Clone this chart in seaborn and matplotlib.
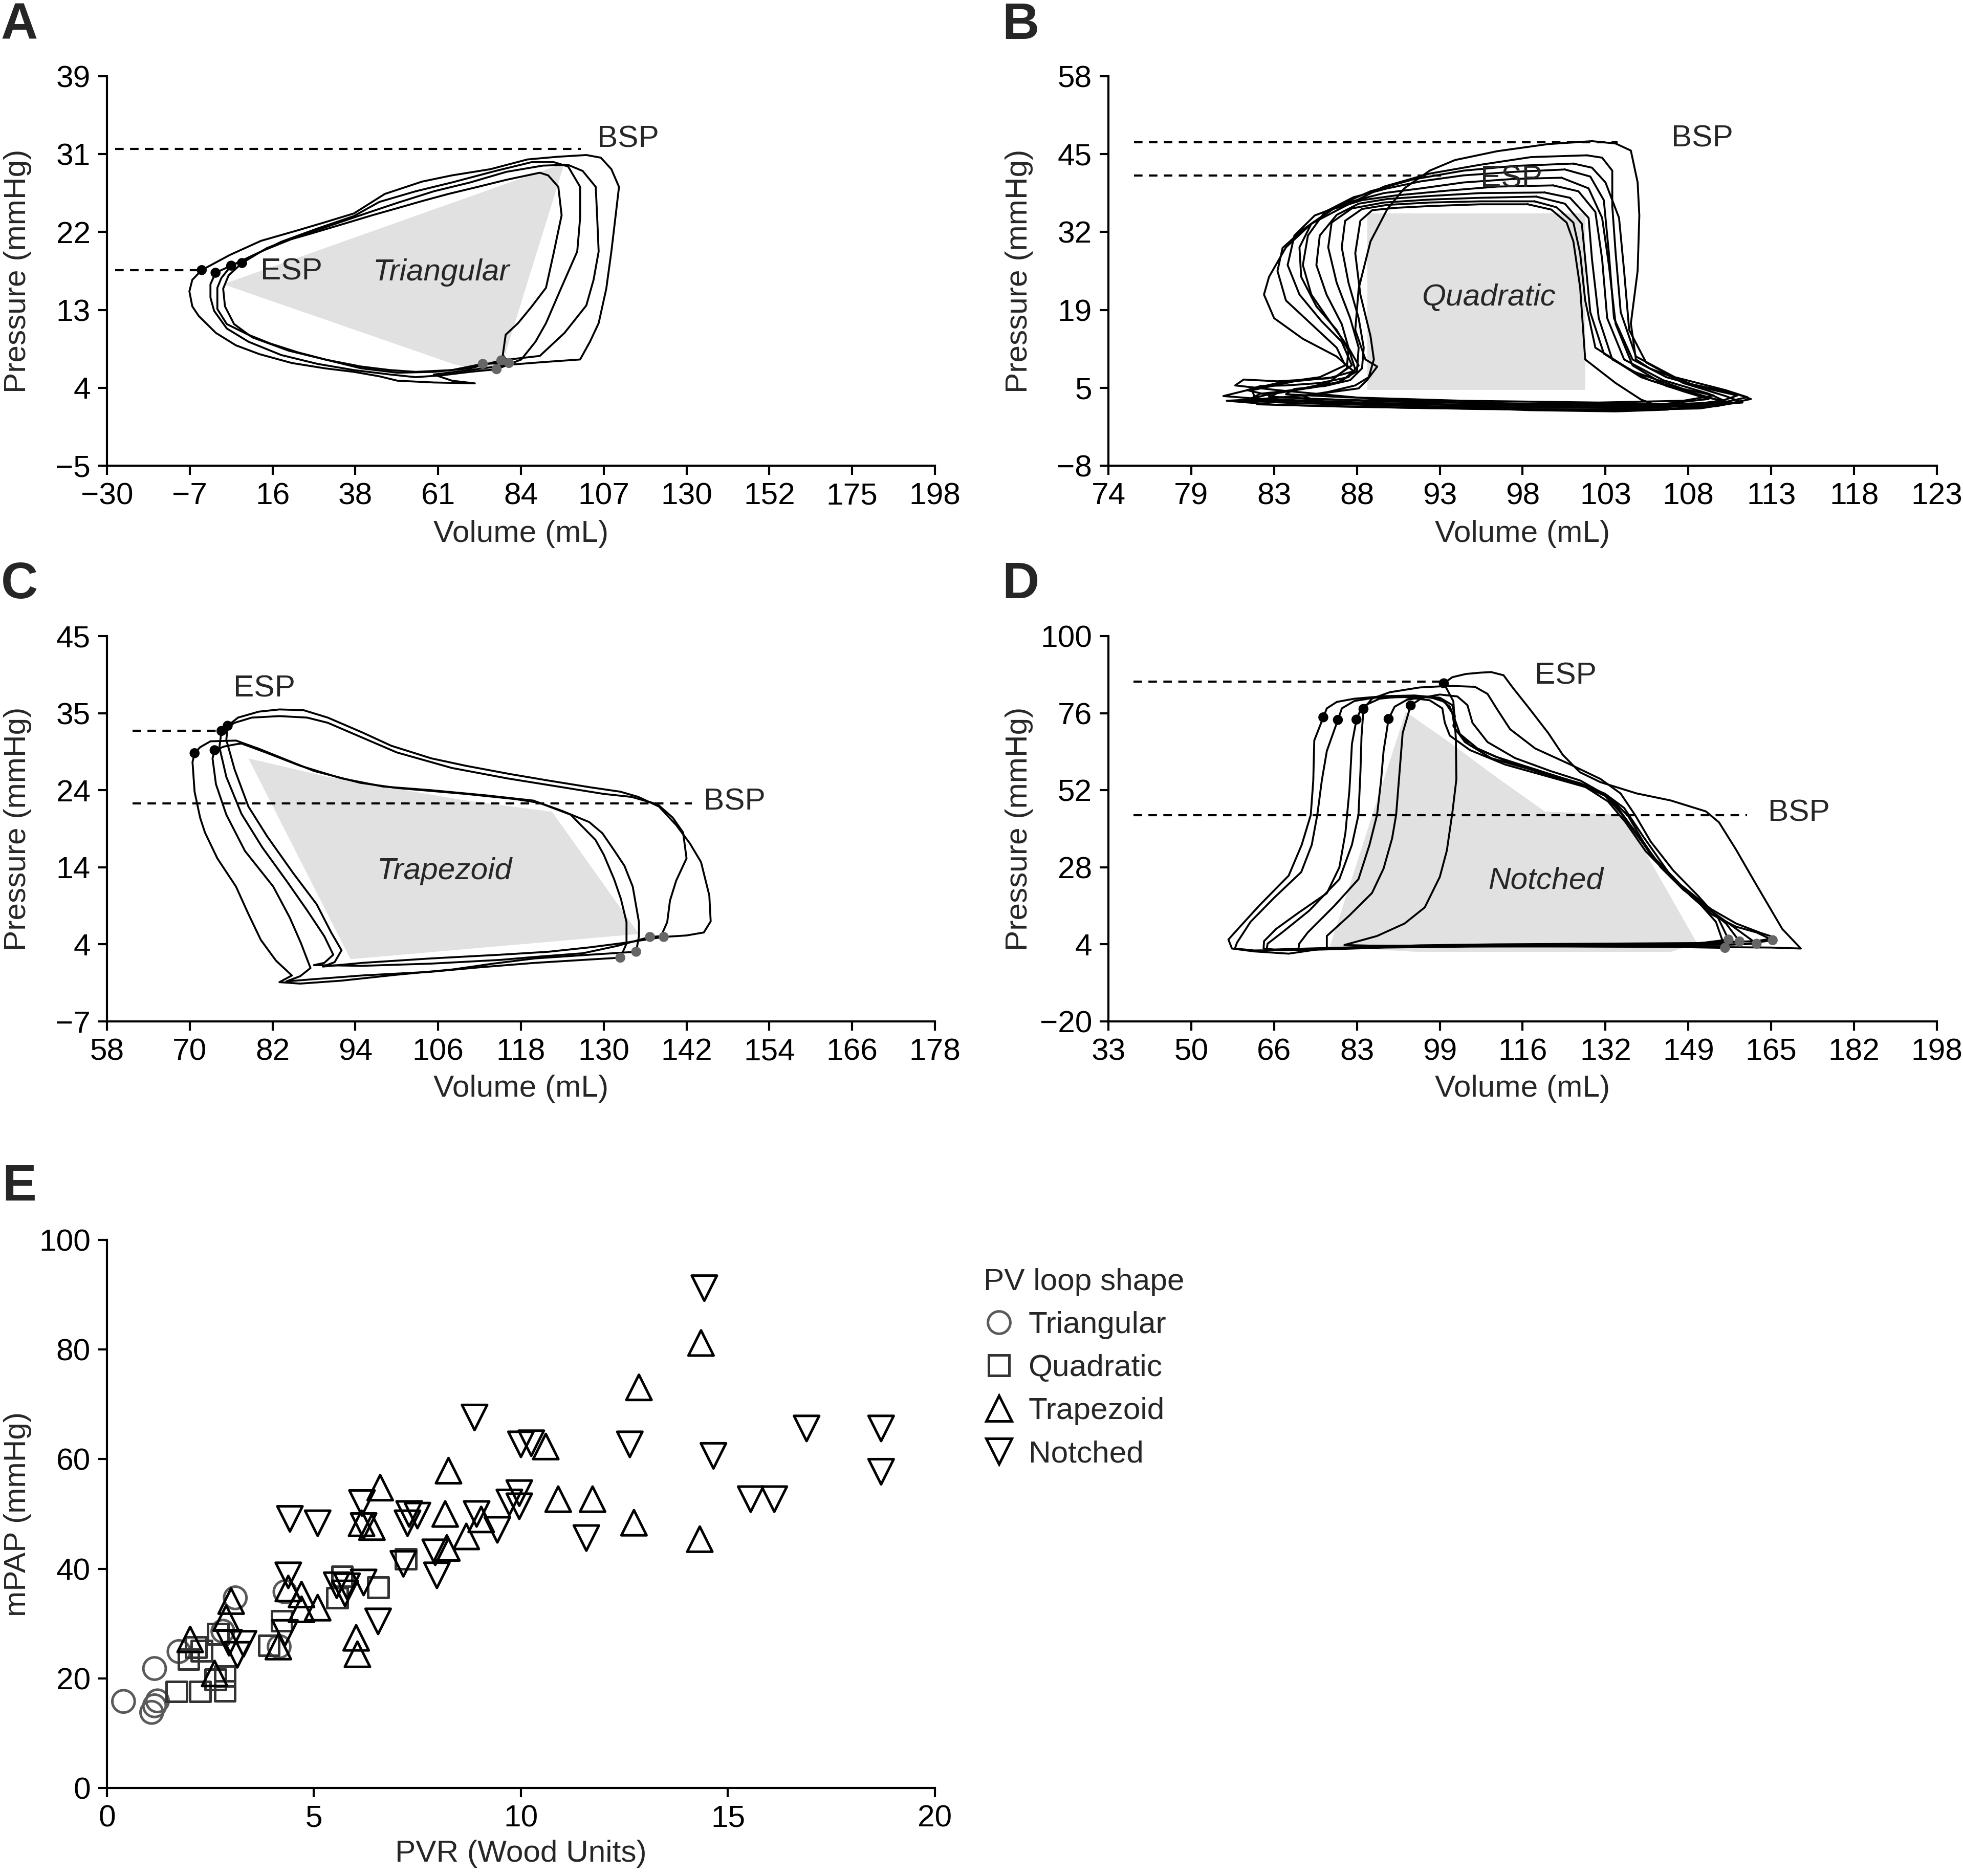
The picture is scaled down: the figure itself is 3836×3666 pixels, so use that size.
import numpy as np
import pandas as pd
import matplotlib
matplotlib.use("Agg")
import matplotlib.pyplot as plt
import seaborn as sns
from matplotlib.lines import Line2D

sns.set_style("ticks")
plt.rcParams["font.family"] = ["Liberation Sans", "DejaVu Sans"]
plt.rcParams["axes.unicode_minus"] = True

# ---------------------------------------------------------------- panel A data
A_LOOP_1 = [(-3.9,17.1),(-6.5,16.0),(-7.3,14.7),(-6.5,13.0),(-4.7,11.9),(0,10.0),(5.5,8.6),(12,7.6),(20.9,6.6),(30,6.0),(38,5.6),(45,5.1),(50,4.6),(60,4.4),(71.3,4.3),(65,4.6),(60,5.3),(70,5.8),(80.7,6.4),(90,6.7),(100.3,7.0),(103,9.0),(105.4,11.1),(107.5,15),(108.9,19.2),(110,23),(111,26.5),(108.9,28.5),(106,29.8),(102,30.1),(94,29.9),(85.8,29.6),(75.6,28.5),(65,27.8),(56.8,27.1),(46.5,25.7),(38,23.5),(30,22.5),(22.6,21.6),(12.4,20.4),(3.8,18.8),(-3.9,17.1)]
A_LOOP_2 = [(-0.1,16.8),(-1.5,15.5),(-1.5,14.0),(-0.5,12.5),(3,10.5),(9,9.0),(18,7.5),(28,6.5),(38,5.8),(48,5.3),(55,5.0),(62,5.2),(70,5.6),(77.3,5.9),(84.1,7.0),(88,9.0),(90.9,11.1),(95,15),(99.5,19.2),(100.3,23),(100.3,26.5),(97,28.8),(93,29.3),(87,29.3),(77,28.3),(65,27.0),(55,26.0),(45,24.8),(38,23.2),(28,21.8),(18,20.3),(8,18.3),(-0.1,16.8)]
A_LOOP_3 = [(4.2,17.6),(1.5,16.2),(0.4,15.1),(0.4,12.7),(3,11.0),(8.9,9.8),(15,8.8),(22.6,7.8),(32,6.8),(40,6.0),(50,5.5),(60,5.6),(70,6.0),(78.6,6.9),(89.2,7.4),(96,10),(102,13.1),(104,16),(105.4,19.2),(105,23),(104.6,26.5),(101,28.3),(96.9,29.0),(90,28.9),(80,28.2),(70,27.0),(60,26.0),(50,24.7),(42,23.6),(32,22.2),(22,20.8),(13,19.3),(4.2,17.6)]
A_LOOP_4 = [(7.2,17.9),(3.5,16.5),(2,15.0),(2.5,13.0),(5,11.0),(10,9.5),(20,8.0),(30,7.0),(40,6.2),(48,5.8),(55,5.6),(65,5.8),(73.5,6.5),(80.7,6.6),(79,7.5),(79.8,9.8),(83.2,11.1),(87,13),(90.9,15.1),(93,19),(95.2,23.3),(94.3,26.5),(91.5,27.8),(89.2,28.1),(80,27.3),(72.1,26.5),(64,25.7),(56.8,24.9),(50,24.1),(43.1,23.3),(35,22.3),(26,21.2),(20,20.5),(14.1,19.6),(7.2,17.9)]
A_LOOPS = [A_LOOP_1, A_LOOP_2, A_LOOP_3, A_LOOP_4]
A_SHAPE = [(2.0,15.5),(96.0,29.2),(78.0,5.4),(66.0,6.4)]
A_ESP_V = [-3.9, -0.1, 4.2, 7.2]
A_ESP_P = [17.1, 16.8, 17.6, 17.9]
A_EDP_V = [73.5, 78.6, 80.7, 77.3]
A_EDP_P = [6.5, 6.9, 6.6, 5.9]
A_XTICKS = ["\u221230", "\u22127", "16", "38", "61", "84", "107", "130", "152", "175", "198"]
A_YTICKS = ["\u22125", "4", "13", "22", "31", "39"]

# ---------------------------------------------------------------- panel B data
B_LOOP_1 = [(102.6,47.0),(100,46.5),(97,45.3),(94.5,43.8),(93,42),(91.5,39),(90.5,35.5),(89.5,30),(88.8,22),(88.6,15),(89.2,10),(89.9,8.8),(89.3,6.5),(88.8,5.1),(86,4),(83,3.3),(81,3.0),(84,2.3),(92,1.8),(100,1.5),(107,1.6),(110,2.1),(112,3.3),(111,4.3),(108.5,5.8),(106,8.5),(105.2,10),(104.9,16.1),(105.3,25),(105.4,34.4),(105.3,40),(104.9,45.4),(104,46.6),(102.6,47.0)]
B_LOOP_2 = [(102.3,44.6),(99,44.3),(96,43),(93,41.5),(90.3,39.3),(88,36),(86,33),(84.5,29),(83.5,24),(83.2,21),(83.8,17),(85.5,13.5),(87.5,10.5),(88.5,8),(87,6.8),(84,6.3),(82,6.6),(81.5,5.6),(84,4.8),(90,3.2),(98,2.4),(106,2.2),(110,2.5),(111.8,3.6),(110.5,4.8),(107.5,7),(105.2,10.5),(104.3,18),(104,28),(103.8,36),(103.8,42),(103.2,44.2),(102.3,44.6)]
B_LOOP_3 = [(101.5,43.2),(98,42.8),(95,42),(92,40.5),(89.5,38.5),(87.5,36),(85.5,32),(84.3,28.9),(84,25),(84.5,20),(86,16),(87.5,12),(88,9),(86.5,7),(84,6),(82.5,5),(80.8,3.8),(83,3.3),(90,2.6),(100,2.1),(108,2.0),(111.5,2.7),(110.5,3.8),(108,6),(105.8,9.5),(104.8,15),(104.5,25),(104.2,34),(103.4,40),(102.6,42.5),(101.5,43.2)]
B_LOOP_4 = [(100.8,40.8),(98,40.6),(95,40),(92.5,39),(90.3,38.2),(88.4,36.8),(86.2,34.4),(85,31),(84.6,26),(85.3,21),(86.6,16.5),(87.8,13),(88.4,9),(87.4,7),(85,6.3),(82.5,4.8),(82.8,2.4),(88,2.0),(96,1.6),(104,1.4),(109,1.7),(111,2.6),(109.5,3.5),(107,5.5),(105,9),(104,16),(103.6,26),(103.2,34),(102.4,39),(100.8,40.8)]
B_LOOP_5 = [(100.3,39.5),(97,39.3),(94,38.6),(91,37.8),(89,37),(87.3,35.5),(86,33),(85.3,29),(85.4,24),(86.3,19),(87.5,15),(88.3,11),(88.6,8.3),(87.8,6.3),(86,5.2),(84,4.5),(82,3.0),(85,2.6),(92,2.1),(100,1.8),(107,1.9),(110.5,2.9),(109.5,4.2),(106.8,6.5),(104.5,10),(103.5,17),(103.2,27),(102.8,35),(101.8,38.5),(100.3,39.5)]
B_LOOP_6 = [(99.8,38.3),(96,38.2),(93,37.7),(90.5,37.2),(88.8,36.4),(87.5,34.5),(86.5,31),(86.3,26),(86.9,21),(87.8,16),(88.2,12),(88.1,8.5),(87,6),(85,4.8),(83,4.2),(82.3,3.2),(86,2.8),(94,2.3),(102,2.0),(108,2.2),(110.2,3.0),(109,4.0),(106,6.5),(103.8,10),(103,17),(102.6,27),(102.4,34),(101.3,37.4),(99.8,38.3)]
B_LOOP_7 = [(99.3,37.6),(96,37.4),(93,37.1),(90.3,36.6),(88.4,35.6),(87.2,33.2),(87,29),(87.5,23),(88.3,17),(88.8,12),(88.7,8),(87.5,6),(85.5,5),(84,4.3),(83.5,3.7),(86,3.3),(93,2.8),(101,2.4),(107,2.5),(109.5,3.3),(108,4.6),(105.5,7),(103.3,11),(102.5,18),(102.2,27),(102,33),(101,36.4),(99.3,37.6)]
B_LOOP_8 = [(99.2,36.8),(96,36.8),(93,36.6),(90.5,36.2),(89,35.5),(88,33.5),(87.8,29),(88.2,23),(88.8,17),(89.1,12),(89,8.5),(88.3,6.5),(86.8,5.5),(85,5),(84.5,4.1),(88,3.6),(95,3.0),(103,2.7),(108,3.0),(109.8,3.9),(108,5),(105,8),(102.8,12),(102.2,20),(101.9,28),(101.5,33.2),(100.5,35.8),(99.2,36.8)]
B_LOOP_9 = [(98.8,36.3),(96,36.3),(93,36.0),(91,35.7),(89.6,35.3),(88.9,33.5),(88.6,28),(88.9,21),(89.5,14),(89.7,10),(89.4,7),(88.6,5.6),(87,4.5),(85.5,3.8),(86.5,2.8),(92,2.1),(99,1.4),(104,1.2),(107.1,1.5),(105.5,3.2),(104,6),(102.2,10),(101.9,22.2),(101.5,30),(101.1,33.2),(100.2,35.4),(98.8,36.3)]
B_LOOP_10 = [(101,42.2),(98,41.8),(95,41.2),(92.5,40.2),(90.5,39),(88.5,37.5),(86.8,35),(85.8,31),(85.5,26),(86,21),(87.2,16),(88.2,12),(88.8,9),(88.2,7),(86.5,6),(84.5,5.6),(83,5.5),(82.2,4.8),(84,3.6),(90,2.9),(98,2.5),(106,2.3),(110,2.7),(111.2,3.9),(109.5,5),(107,7),(105,10),(103.9,17),(103.6,28),(103.3,37),(102.5,41),(101,42.2)]
B_LOOPS = [B_LOOP_1, B_LOOP_2, B_LOOP_3, B_LOOP_4, B_LOOP_5, B_LOOP_6, B_LOOP_7, B_LOOP_8, B_LOOP_9, B_LOOP_10]
B_SHAPE = [(89.3,4.8),(89.3,34.8),(102.2,34.8),(102.2,4.8)]
B_XTICKS = ["74", "79", "83", "88", "93", "98", "103", "108", "113", "118", "123"]
B_YTICKS = ["\u22128", "5", "19", "32", "45", "58"]

# ---------------------------------------------------------------- panel C data
C_LOOP_1 = [(75.5,32.9),(75.3,31),(76.5,27),(78.5,22),(81.2,18),(85,13),(88.4,8.8),(90.5,5),(92,2.6),(91,1.0),(89.3,0.4),(95,0.9),(105,1.5),(115,2.0),(122,2.4),(128,3.0),(133,3.6),(138.7,4.4),(142,4.6),(144.5,5.0),(145.5,6.5),(145.3,10),(144.1,14.5),(142.5,17),(140.5,19.5),(138,22),(135,23.3),(132.4,24.0),(128,24.6),(122,25.5),(116.3,26.4),(110,27.5),(105,28.5),(99.2,30.2),(95,32),(90,34),(86.5,35),(83,35.1),(80,34.8),(77,34),(75.5,32.9)]
C_LOOP_2 = [(74.6,32.2),(74.3,30),(75.3,26),(77.5,21),(80.5,16.5),(84,12),(87,8),(89.5,4.5),(90.8,2.0),(89.5,0.9),(88,0.6),(95,0.5),(105,0.8),(115,1.3),(120,1.7),(127,2.2),(132,3.2),(136.7,4.4),(138.3,4.5),(139.2,6.4),(139.6,9.3),(140.5,12),(142,15),(141.5,18.5),(140,20.5),(137.8,22.3),(134,23.3),(130,23.7),(124,24.6),(116,25.8),(108,27.2),(100,29.3),(95,31.3),(90,33.3),(87,34.0),(83,34.2),(79,34.0),(76.5,33.3),(74.6,32.2)]
C_LOOP_3 = [(70.7,29.2),(70.4,28.0),(70.7,24.0),(71.5,20.5),(72.2,18.5),(74.0,15.0),(76.7,11.2),(78.5,7.5),(80.3,4.0),(82.5,1.2),(84.8,-0.8),(83.0,-1.7),(86,-1.9),(92,-1.5),(100,-0.7),(108,0.0),(114,0.8),(120,1.5),(128,2.0),(134.7,2.4),(135.1,4.5),(135.1,6.4),(134.2,11.2),(133,14),(131.5,16.1),(129.8,18.4),(127.9,19.9),(124,21.4),(120.7,22.5),(117.2,23.0),(110,23.7),(100,24.5),(94.7,25.2),(88,26.8),(84.8,28.0),(80,29.8),(76.7,30.9),(73,30.8),(71.5,30.0),(70.7,29.2)]
C_LOOP_4 = [(73.6,29.6),(73.3,28.5),(73.8,25.0),(75.3,20.9),(78.0,16.0),(82.1,11.2),(84.5,7.0),(86.1,3.6),(87.5,0.2),(86.0,-0.9),(84.0,-1.6),(88.0,-1.3),(95,-0.8),(105,-0.3),(112,0.3),(120,0.9),(127,1.3),(132.4,1.6),(133.3,3.5),(133.3,6.4),(132.5,9.5),(131.5,12.2),(130,15.5),(128.8,17.5),(125.2,20.9),(119.8,22.8),(113,23.5),(105,24.2),(98,24.7),(92,25.8),(86,27.5),(81,29.3),(77.5,30.5),(76.7,30.4),(75,30.1),(73.6,29.6)]
C_LOOPS = [C_LOOP_1, C_LOOP_2, C_LOOP_3, C_LOOP_4]
C_SHAPE = [(78.5,28.5),(90,26.0),(110,22.8),(122.5,21.3),(135.1,4.8),(93.3,1.4)]
C_ESP_V = [70.7, 73.6, 74.6, 75.5]
C_ESP_P = [29.2, 29.6, 32.2, 32.9]
C_EDP_V = [136.7, 138.7, 134.7, 132.4]
C_EDP_P = [4.4, 4.4, 2.4, 1.6]
C_XTICKS = ["58", "70", "82", "94", "106", "118", "130", "142", "154", "166", "178"]
C_YTICKS = ["\u22127", "4", "14", "24", "35", "45"]

# ---------------------------------------------------------------- panel D data
D_LOOP_1 = [(75.8,74.7),(76.5,77.5),(78.5,79.5),(82,80.5),(88,81.3),(94,81.5),(99,80.8),(101.5,78.5),(102,75),(101.7,72),(104,67),(109.2,62),(114,59.8),(119.3,57.6),(126.9,54.2),(131.9,50.9),(135.7,46.5),(139.5,37.6),(144.5,26.5),(149,19),(153.3,13.2),(158,9.5),(162.1,7.7),(165.3,5.3),(160,4.1),(150,3.8),(135,3.7),(120,3.6),(100,3.5),(85,3.3),(75,2.5),(68.9,1.1),(62,1.8),(57.6,2.7),(56.9,5.5),(58.8,8.8),(63,16),(68.9,25.4),(71.5,35),(73.3,44.3),(73.8,55),(74,67.5),(75.8,74.7)]
D_LOOP_2 = [(78.7,73.9),(79.5,77.5),(82,79.8),(86,80.8),(92,81.0),(97,80),(99.5,77.5),(100,73),(101,69),(105,64.5),(112,60),(120,56.5),(128,53),(133,49.5),(136.5,44),(139.5,36),(143,28),(147.5,21),(152.5,15),(157,10),(162.1,4.2),(155,3.8),(140,3.6),(120,3.5),(100,3.4),(85,3.0),(72,2.3),(62,2.1),(58.2,2.7),(58.6,4.5),(61.3,11),(66,18.5),(71.4,26.5),(73.5,35),(74.6,44.3),(75.5,55),(76.5,64.2),(78.7,73.9)]
D_LOOP_3 = [(82.4,74.0),(83.5,78),(87,80.5),(92,81.3),(97,81),(100,79.5),(101.5,76),(102,71),(105,66),(110,62.5),(118,58.5),(125,55),(131,51.5),(134,47.5),(137.5,40),(141,32),(146,23.5),(151,17),(156,10.5),(158.7,4.9),(150,4.0),(130,3.8),(110,3.6),(90,3.4),(75,2.8),(66,2.4),(63.9,2.7),(64,5),(66.4,8.8),(71,14),(76.5,19.9),(79,28),(80.2,38.7),(81,52),(81.5,66.4),(82.4,74.0)]
D_LOOP_4 = [(83.8,77.3),(85.5,80.5),(89,82.5),(95,84),(101,84.5),(106,84.2),(108.5,82),(110.5,77),(113,71),(118,65),(125,60),(131,55.5),(135,51),(138,44),(141,36),(145.5,27),(150.5,19),(154.5,12),(156.5,5.5),(150,4.2),(130,4.0),(110,3.8),(90,3.5),(72,2.5),(64.5,2.2),(64.7,4.2),(67.6,7.7),(73,14.5),(79,24.3),(81.5,35),(82.8,44.3),(83.2,58),(83.4,68.6),(83.8,77.3)]
D_LOOP_5 = [(88.8,74.2),(90,78),(92.5,80.2),(96,81),(99,80.5),(101,78),(102,74),(103,69.5),(106.5,65),(113,60.5),(121,56.5),(128,53),(132.5,48.5),(136,42),(140,33),(145,25),(150,18),(154,11),(155.8,2.9),(145,3.2),(125,3.4),(105,3.3),(88,3.0),(76,2.4),(70.8,2.2),(71,4.2),(72.7,7.7),(78,16),(82.8,24.3),(85,35),(86.5,44.3),(87.3,55),(87.8,64.2),(88.8,74.2)]
D_LOOP_6 = [(93.2,78.4),(95.5,80.8),(99,81.8),(102.5,81.2),(104.5,78.5),(105.5,73),(108.5,67),(114,62),(121,58),(127,55),(131.5,51),(135,45),(138.5,37.5),(142,30.5),(147,22.5),(153,15),(158,10.5),(163,7.5),(166,6),(162,5),(150,4.4),(130,4.2),(110,4.0),(95,3.7),(82,3.0),(76.5,2.7),(76.5,6.6),(81,13),(85.5,20),(87.8,27.6),(89.5,37),(90.3,44.3),(91,58),(91.6,69.8),(93.2,78.4)]
D_LOOP_7 = [(99.8,85.3),(101.5,87.2),(104.2,88.2),(107,88.6),(109.2,88.8),(111.7,87.8),(113.5,84),(116.8,77.5),(120.6,69.8),(123.5,63),(126.9,57.6),(131,54.5),(138.2,51),(145,48.8),(152,45.4),(154.6,42),(158,33.5),(161.5,24),(164.5,16),(167.2,8.8),(170.9,2.7),(165,3.0),(150,3.2),(130,3.3),(110,3.4),(95,3.5),(85,3.6),(80,3.8),(86.5,6.6),(92,10.5),(96,15.5),(99,25),(100.4,33.2),(101.5,45),(102.3,55.4),(102.2,68),(101.7,79.7),(99.8,85.3)]
D_LOOPS = [D_LOOP_1, D_LOOP_2, D_LOOP_3, D_LOOP_4, D_LOOP_5, D_LOOP_6, D_LOOP_7]
D_SHAPE = [(92.2,76.4),(100.4,67.5),(109.9,56.5),(119.9,45.4),(135.7,44.3),(150.2,4.4),(145,1.6),(95,1.6),(77.1,3.3)]
D_ESP_V = [75.8, 78.7, 82.4, 83.8, 88.8, 93.2, 99.8]
D_ESP_P = [74.7, 73.9, 74.0, 77.3, 74.2, 78.4, 85.3]
D_EDP_V = [155.8, 156.5, 158.7, 162.1, 165.3]
D_EDP_P = [2.9, 5.5, 4.9, 4.2, 5.3]
D_XTICKS = ["33", "50", "66", "83", "99", "116", "132", "149", "165", "182", "198"]
D_YTICKS = ["\u221220", "4", "28", "52", "76", "100"]

# ---------------------------------------------------------------- panel E data
TRI_PVR  = [0.40, 1.15, 1.22, 1.15, 1.08, 1.74, 2.80, 3.10, 4.30, 4.16]
TRI_MPAP = [15.8, 21.8, 15.9, 15.0, 13.8, 24.9, 28.6, 34.7, 35.8, 25.8]
QUAD_PVR  = [1.68, 2.25, 1.97, 2.15, 2.29, 2.68, 2.62, 2.85, 2.85, 3.91, 4.22, 5.56, 5.68, 6.55, 7.22]
QUAD_MPAP = [17.6, 17.6, 23.5, 25.7, 25.0, 28.1, 19.8, 20.4, 17.7, 26.0, 30.5, 34.7, 38.6, 36.6, 41.8]
TRAP_PVR  = [2.01, 2.60, 3.00, 2.88, 4.14, 4.38, 4.70, 4.70, 5.09, 6.02, 6.05, 6.15, 6.40, 6.60, 8.17, 8.25, 8.21, 8.68, 9.04, 10.90, 10.60, 11.73, 12.73, 14.32, 12.85, 14.35]
TRAP_MPAP = [27.1, 20.9, 34.1, 31.0, 25.8, 36.4, 35.3, 32.6, 32.9, 27.4, 24.4, 48.3, 47.6, 54.8, 50.0, 57.9, 43.8, 45.9, 49.0, 52.7, 62.3, 52.7, 48.4, 45.4, 73.1, 81.2]
NOTCH_PVR  = [2.95, 3.30, 3.15, 4.30, 4.38, 5.55, 5.80, 6.20, 5.75, 6.55, 4.42, 5.09, 6.16, 6.20, 7.30, 7.50, 7.26, 8.93, 9.43, 9.72, 9.96, 9.96, 7.93, 7.97, 7.16, 8.88, 10.00, 10.25, 12.63, 14.43, 14.65, 11.58, 15.55, 16.12, 16.90, 18.70, 18.70]
NOTCH_MPAP = [26.5, 26.3, 24.3, 28.3, 38.8, 37.0, 36.8, 37.5, 35.5, 30.4, 49.1, 48.3, 52.0, 47.8, 50.0, 49.7, 48.3, 50.0, 47.1, 52.1, 53.8, 51.4, 43.0, 38.8, 40.9, 67.6, 62.7, 62.9, 62.7, 91.2, 60.6, 45.6, 52.7, 52.7, 65.6, 65.6, 57.7]
E_LABELS = ["Triangular", "Quadratic", "Trapezoid", "Notched"]

# ---------------------------------------------------------------- layout
W, H = 3837, 3666
fig = plt.figure(figsize=(W / 300, H / 300), dpi=300)

FS = 14.5
LOOP_LW = 0.9
GREY_FILL = "#e1e1e1"


def frac_rect(l, t, r, b):
    return [l / W, 1 - b / H, (r - l) / W, (b - t) / H]


axA = fig.add_axes(frac_rect(209, 149, 1827, 910))
axB = fig.add_axes(frac_rect(2166, 149, 3785, 910))
axC = fig.add_axes(frac_rect(209, 1243, 1827, 1996))
axD = fig.add_axes(frac_rect(2166, 1243, 3785, 1996))
axE = fig.add_axes(frac_rect(209, 2423, 1827, 3494))


def style_axis(ax, xr, yr, xlabels, ylabels, xlabel, ylabel, xl_y=-0.175):
    ax.set_xlim(*xr)
    ax.set_ylim(*yr)
    ax.set_xticks(np.linspace(xr[0], xr[1], len(xlabels)))
    ax.set_xticklabels(xlabels)
    ax.set_yticks(np.linspace(yr[0], yr[1], len(ylabels)))
    ax.set_yticklabels(ylabels)
    sns.despine(ax=ax)
    for s in ["left", "bottom"]:
        ax.spines[s].set_linewidth(1.0)
        ax.spines[s].set_color("black")
    ax.tick_params(axis="both", length=4.2, width=1.0, labelsize=FS, pad=3.5,
                   color="black", labelcolor="black", direction="out")
    ax.set_xlabel(xlabel, fontsize=FS)
    ax.set_ylabel(ylabel, fontsize=FS)
    ax.xaxis.label.set_va("center")
    ax.yaxis.label.set_va("center")
    ax.xaxis.set_label_coords(0.5, xl_y)
    ax.yaxis.set_label_coords(-0.108, 0.5)
    ax.set_facecolor("white")
    ax.grid(False)


def draw_loops(ax, loops):
    rows = []
    for i, loop in enumerate(loops):
        for j, (v, p) in enumerate(loop):
            rows.append((i, j, v, p))
    df = pd.DataFrame(rows, columns=["loop", "order", "V", "P"])
    sns.lineplot(data=df, x="V", y="P", units="loop", estimator=None, sort=False,
                 color="black", lw=LOOP_LW, ax=ax, legend=False, zorder=2)


def draw_shape(ax, shape):
    xs = [p[0] for p in shape]
    ys = [p[1] for p in shape]
    ax.fill(xs, ys, color=GREY_FILL, lw=0, zorder=0)


def dashed(ax, x0, x1, y):
    ax.plot([x0, x1], [y, y], color="black", lw=1.0, dashes=(4, 3), zorder=3)


def dots(ax, vs, ps, color):
    sns.scatterplot(x=vs, y=ps, color=color, s=22, edgecolor="none", ax=ax, zorder=4, legend=False)


def label(ax, x, y, txt, italic=False, ha="left"):
    ax.text(x, y, txt, fontsize=FS, ha=ha, va="center",
            style="italic" if italic else "normal", zorder=5)


# ---- A
draw_shape(axA, A_SHAPE)
draw_loops(axA, A_LOOPS)
dashed(axA, -27.8, 100.5, 30.8)
dashed(axA, -27.8, -3.9, 17.1)
dots(axA, A_ESP_V, A_ESP_P, "black")
dots(axA, A_EDP_V, A_EDP_P, "#666666")
label(axA, 105.0, 31.9, "BSP")
label(axA, 12.3, 16.9, "ESP")
label(axA, 62.0, 16.8, "Triangular", italic=True, ha="center")
style_axis(axA, (-30, 198), (-5, 39), A_XTICKS, A_YTICKS, "Volume (mL)", "Pressure (mmHg)")

# ---- B
draw_shape(axB, B_SHAPE)
draw_loops(axB, B_LOOPS)
dashed(axB, 75.5, 104.1, 46.8)
dashed(axB, 75.5, 94.0, 41.2)
label(axB, 107.3, 47.4, "BSP")
label(axB, 96.0, 40.6, "ESP")
label(axB, 96.5, 20.6, "Quadratic", italic=True, ha="center")
style_axis(axB, (74, 123), (-8, 58), B_XTICKS, B_YTICKS, "Volume (mL)", "Pressure (mmHg)")

# ---- C
draw_shape(axC, C_SHAPE)
draw_loops(axC, C_LOOPS)
dashed(axC, 61.7, 142.8, 22.4)
dashed(axC, 61.7, 74.6, 32.2)
dots(axC, C_ESP_V, C_ESP_P, "black")
dots(axC, C_EDP_V, C_EDP_P, "#666666")
label(axC, 76.3, 37.9, "ESP")
label(axC, 144.5, 22.6, "BSP")
label(axC, 106.9, 13.3, "Trapezoid", italic=True, ha="center")
style_axis(axC, (58, 178), (-7, 45), C_XTICKS, C_YTICKS, "Volume (mL)", "Pressure (mmHg)")

# ---- D
draw_shape(axD, D_SHAPE)
draw_loops(axD, D_LOOPS)
dashed(axD, 38.0, 160.2, 44.3)
dashed(axD, 38.0, 99.8, 85.8)
dots(axD, D_ESP_V, D_ESP_P, "black")
dots(axD, D_EDP_V, D_EDP_P, "#666666")
label(axD, 117.9, 87.5, "ESP")
label(axD, 164.4, 44.9, "BSP")
label(axD, 120.1, 23.8, "Notched", italic=True, ha="center")
style_axis(axD, (33, 198), (-20, 100), D_XTICKS, D_YTICKS, "Volume (mL)", "Pressure (mmHg)")

# ---- E
E_STYLE = [
    (TRI_PVR, TRI_MPAP, "o", 10.5, "#5a5a5a"),
    (QUAD_PVR, QUAD_MPAP, "s", 9.5, "#333333"),
    (TRAP_PVR, TRAP_MPAP, "^", 11.8, "black"),
    (NOTCH_PVR, NOTCH_MPAP, "v", 11.8, "black"),
]
handles = []
for (xs, ys, mk, ms, col), lab in zip(E_STYLE, E_LABELS):
    sns.scatterplot(x=xs, y=ys, marker=mk, s=ms ** 2, facecolor="none", edgecolor=col,
                    linewidth=1.2, ax=axE, legend=False, zorder=3)
    handles.append(Line2D([], [], ls="", marker=mk, ms=ms, mfc="none", mec=col, mew=1.2))
style_axis(axE, (0, 20), (0, 100), ["0", "5", "10", "15", "20"],
           ["0", "20", "40", "60", "80", "100"], "PVR (Wood Units)", "mPAP (mmHg)", xl_y=-0.120)
axE.set_xticks([0, 5, 10, 15, 20])
axE.set_yticks([0, 20, 40, 60, 80, 100])

leg = fig.legend(handles, E_LABELS, loc="upper left", bbox_to_anchor=(1922 / W, 1 - 2478 / H),
                 frameon=False, title="PV loop shape", title_fontsize=FS, fontsize=FS,
                 handlelength=1.0, handletextpad=0.45, labelspacing=0.48, alignment="left",
                 borderpad=0, borderaxespad=0)

# ---- panel letters
for txt, (x, y) in zip(["A", "B", "C", "D", "E"],
                       [(38, 50), (1994, 50), (38, 1143), (1994, 1143), (38, 2320)]):
    fig.text(x / W, 1 - y / H, txt, fontsize=24, fontweight="bold", ha="center", va="center")

fig.savefig("out.png", dpi=300, facecolor="white")
